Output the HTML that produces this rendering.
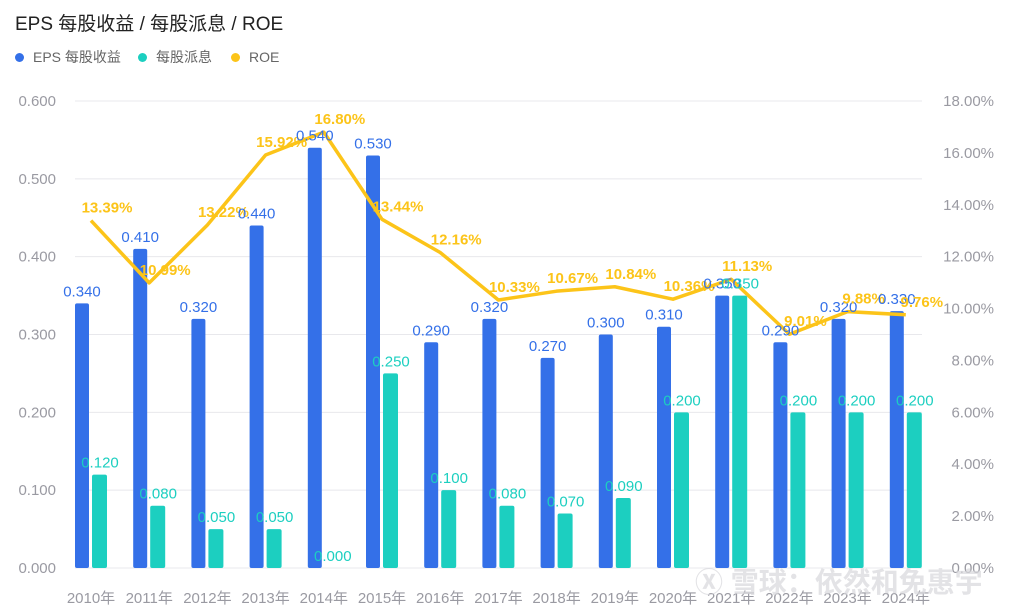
<!DOCTYPE html>
<html><head><meta charset="utf-8"><style>
body{margin:0;background:#fff;font-family:"Liberation Sans","Noto Sans CJK SC",sans-serif;}
#wrap{position:relative;width:1011px;height:609px;overflow:hidden;}
.title{position:absolute;left:15px;top:9px;font-size:19px;color:#222;}
.legend{position:absolute;top:48px;height:18px;font-size:14px;line-height:18px;color:#666;display:flex;align-items:center;}
.legend i{display:inline-block;width:9px;height:9px;border-radius:50%;margin-right:9px;}
</style></head><body>
<div id="wrap">
<div class="title">EPS 每股收益 / 每股派息 / ROE</div>
<div class="legend" style="left:15px"><i style="background:#3470e8"></i>EPS 每股收益</div>
<div class="legend" style="left:138px"><i style="background:#1ccfc0"></i>每股派息</div>
<div class="legend" style="left:231px"><i style="background:#fcc419"></i>ROE</div>
<svg id="svg" width="1011" height="609" style="position:absolute;left:0;top:0"></svg>
</div>
<script>
const categories=["2010年","2011年","2012年","2013年","2014年","2015年","2016年","2017年","2018年","2019年","2020年","2021年","2022年","2023年","2024年"];
const eps=[0.34,0.41,0.32,0.44,0.54,0.53,0.29,0.32,0.27,0.30,0.31,0.35,0.29,0.32,0.33];
const dividend=[0.12,0.08,0.05,0.05,0.0,0.25,0.10,0.08,0.07,0.09,0.20,0.35,0.20,0.20,0.20];
const roe=[13.39,10.99,13.22,15.92,16.80,13.44,12.16,10.33,10.67,10.84,10.36,11.13,9.01,9.88,9.76];
const leftTicks=[0,0.1,0.2,0.3,0.4,0.5,0.6];
const rightTicks=[0,2,4,6,8,10,12,14,16,18];
const svg=document.getElementById('svg');
const NS='http://www.w3.org/2000/svg';
const x0=91,step=58.2,yBase=568,yTop=101;
const xC=i=>x0+i*step;
const yL=v=>yBase-(v/0.6)*(yBase-yTop);
const yR=v=>yBase-(v/18)*(yBase-yTop);
function mk(tag,attrs,text){const e=document.createElementNS(NS,tag);for(const k in attrs)e.setAttribute(k,attrs[k]);if(text!==undefined)e.textContent=text;svg.appendChild(e);return e;}
leftTicks.forEach(t=>{
 const g=mk('line',{x1:75,x2:922,y1:yL(t),y2:yL(t),stroke:'#e8e8ec','stroke-width':1});
 
 
 const l=mk('text',{x:56,y:yL(t)+5,'text-anchor':'end','font-size':15,fill:'#9a9aa2'},t.toFixed(3));
 
 
});
rightTicks.forEach(t=>{
 const l=mk('text',{x:994,y:yR(t)+5,'text-anchor':'end','font-size':15,fill:'#9a9aa2'},t.toFixed(2)+'%');
 
 
});
categories.forEach((c,i)=>{
 const l=mk('text',{x:xC(i),y:603,'text-anchor':'middle','font-size':15,fill:'#9a9aa2'},c);
 
 
 const bx=xC(i)-16,h1=yBase-yL(eps[i]);
 const b=mk('rect',{x:bx,y:yL(eps[i]),width:14,height:Math.max(h1,0.01),rx:2,fill:'#3470e8'});
 
 
 const dx=xC(i)+1,h2=yBase-yL(dividend[i]);
 const d=mk('rect',{x:dx,y:yL(dividend[i]),width:15,height:Math.max(h2,0.01),rx:2,fill:'#1ccfc0'});
 
 
});
const pts=roe.map((v,i)=>xC(i)+','+yR(v)).join(' ');
const line=mk('polyline',{points:pts,fill:'none',stroke:'#fcc419','stroke-width':3.5,'stroke-linejoin':'round'});


categories.forEach((c,i)=>{
 const a=mk('text',{x:xC(i)-9,y:yL(eps[i])-7,'text-anchor':'middle','font-size':15,fill:'#3470e8'},eps[i].toFixed(3));
 
 
 const b=mk('text',{x:xC(i)+9,y:yL(dividend[i])-7,'text-anchor':'middle','font-size':15,fill:'#1ccfc0'},dividend[i].toFixed(3));
 
 
 const r=mk('text',{x:xC(i)+16,y:yR(roe[i])-8,'text-anchor':'middle','font-size':15,'font-weight':'bold',fill:'#fcc419'},roe[i].toFixed(2)+'%');
 
 
});
const w=mk('text',{x:695,y:592,'font-size':28,'font-weight':'bold',fill:'rgba(215,215,220,0.7)'},'Ⓧ 雪球：依然和免惠宇');


</script>
</body></html>
